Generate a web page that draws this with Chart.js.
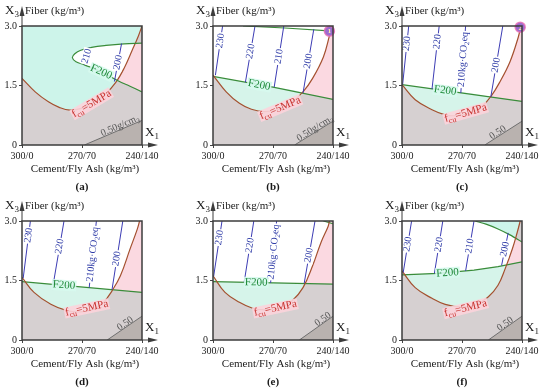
<!DOCTYPE html>
<html>
<head>
<meta charset="utf-8">
<script src="https://cdn.jsdelivr.net/npm/chart.js@4.4.0/dist/chart.umd.min.js"></script>
<style>
body { margin: 0; background: #fff; width: 550px; height: 392px; overflow: hidden; position: relative; }
canvas { position: absolute; }
</style>
</head>
<body>
<canvas id="pa" width="170" height="196" style="left:0;top:0"></canvas>
<canvas id="pb" width="170" height="196" style="left:191px;top:0"></canvas>
<canvas id="pc" width="170" height="196" style="left:380px;top:0"></canvas>
<canvas id="pd" width="170" height="196" style="left:0;top:195px"></canvas>
<canvas id="pe" width="170" height="196" style="left:191px;top:195px"></canvas>
<canvas id="pf" width="170" height="196" style="left:380px;top:195px"></canvas>
<script>
// axis ticks (x is the coded cement/fly ash level, y is fiber)
const xTicks = ['300/0', '270/70', '240/140'];
const yTicks = ['0', '1.5', '3.0'];

// (a)
const fcuA = [[0, 1.68], [0.11, 1.34], [0.22, 1.09], [0.31, 0.95], [0.40, 0.88], [0.50, 0.93], [0.60, 1.07], [0.70, 1.3], [0.78, 1.57], [0.85, 1.93], [0.92, 2.4], [0.97, 2.75], [1, 3.0]];
const f200A = [[1, 2.57], [0.85, 2.55], [0.7, 2.51], [0.58, 2.46], [0.49, 2.39], [0.44, 2.3], [0.42, 2.2], [0.45, 2.1], [0.52, 2.02], [0.62, 1.9], [0.72, 1.75], [0.8, 1.62], [0.9, 1.48], [1, 1.34]];
const densA = [[0.52, 0], [1, 0.62]];
const co2A = [[[0.52, 2.02], [0.56, 2.46]], [[0.77, 1.6], [0.83, 2.56]]];
const co2ValA = [210, 200];

// (b)
const fcuB = [[0, 1.76], [0.11, 1.34], [0.22, 1.05], [0.32, 0.9], [0.43, 0.84], [0.55, 0.9], [0.66, 1.09], [0.75, 1.34], [0.83, 1.68], [0.92, 2.22], [0.97, 2.75], [0.99, 3.0]];
const f200B = [[0, 1.73], [0.5, 1.46], [1, 1.15]];
const crossB = [0.75, 1.31];
const topB = [[0.25, 3.0], [0.6, 2.95], [1, 2.87]];
const densB = [[0.68, 0], [1, 0.6]];
const co2B = [[[0.02, 1.76], [0.08, 3.0]], [[0.27, 1.58], [0.35, 3.0]], [[0.51, 1.46], [0.59, 3.0]], [[0.75, 1.31], [0.84, 2.92]]];
const co2ValB = [230, 220, 210, 200];
const optB = [0.97, 2.87];

// (c)
const fcuC = [[0, 1.52], [0.11, 1.14], [0.25, 0.89], [0.36, 0.76], [0.45, 0.74], [0.56, 0.8], [0.67, 0.99], [0.74, 1.22], [0.81, 1.56], [0.9, 2.1], [0.97, 2.73], [0.99, 3.0]];
const f200C = [[0, 1.52], [1, 1.1]];
const crossC = [0.74, 1.21];
const densC = [[0.69, 0], [1, 0.6]];
const co2C = [[[0.005, 1.52], [0.056, 3.0]], [[0.25, 1.41], [0.31, 3.0]], [[0.49, 1.31], [0.53, 3.0]], [[0.74, 1.21], [0.84, 3.0]]];
const co2ValC = [230, 220, 210, 200];
const optC = [0.985, 2.97];

// (d)
const fcuD = [[0, 1.58], [0.1, 1.2], [0.24, 0.9], [0.375, 0.74], [0.49, 0.71], [0.6, 0.78], [0.68, 0.95], [0.75, 1.24], [0.82, 1.62], [0.9, 2.29], [0.96, 2.79], [0.98, 3.0]];
const f200D = [[0, 1.47], [1, 1.2]];
const crossD = [0.755, 1.27];
const densD = [[0.71, 0], [1, 0.6]];
const co2D = [[[0.01, 1.56], [0.07, 3.0]], [[0.26, 1.4], [0.35, 3.0]], [[0.56, 1.32], [0.62, 3.0]], [[0.75, 1.27], [0.84, 3.0]]];
const co2ValD = [230, 220, 210, 200];

// (e)
const fcuE = [[0, 1.62], [0.1, 1.2], [0.22, 0.95], [0.33, 0.8], [0.44, 0.76], [0.55, 0.8], [0.66, 0.99], [0.75, 1.32], [0.83, 1.87], [0.9, 2.46], [0.96, 2.87], [0.97, 3.0]];
const f200E = [[0, 1.47], [1, 1.41]];
const crossE = [0.765, 1.42];
const topE = [[0.92, 3.0], [1, 2.93]];
const densE = [[0.72, 0], [1, 0.6]];
const co2E = [[[0.005, 1.6], [0.075, 3.0]], [[0.26, 1.46], [0.34, 3.0]], [[0.48, 1.44], [0.53, 3.0]], [[0.76, 1.43], [0.85, 3.0]]];
const co2ValE = [230, 220, 210, 200];

// (f)
const fcuF = [[0, 1.74], [0.11, 1.32], [0.25, 1.05], [0.36, 0.9], [0.5, 0.83], [0.61, 0.88], [0.72, 1.09], [0.8, 1.38], [0.86, 1.8], [0.92, 2.3], [0.96, 2.71], [0.985, 3.0]];
const f200F = [[0, 1.64], [0.3, 1.68], [0.6, 1.76], [0.8, 1.85], [1, 1.97]];
const crossF = [0.87, 1.88];
const topF = [[0.61, 3.0], [0.7, 2.92], [0.8, 2.8], [0.9, 2.65], [1, 2.47]];
const densF = [[0.72, 0], [1, 0.6]];
const co2F = [[[0.01, 1.7], [0.08, 3.0]], [[0.27, 1.68], [0.34, 3.0]], [[0.53, 1.74], [0.6, 3.0]], [[0.83, 1.88], [0.885, 2.7]]];
const co2ValF = [230, 220, 210, 200];

const FONT = '"Liberation Serif", "DejaVu Serif", serif';

const greenShade = 'rgba(90, 220, 185, 0.3)';
const greenBand = '#d6f4ea';
const pinkShade = 'rgba(240, 110, 140, 0.26)';
const grayShade = 'rgba(120, 110, 100, 0.3)';

function richText(ctx, parts, x, y, size, align) {
    const big = size + 'px ' + FONT;
    const small = Math.round(size * 0.7) + 'px ' + FONT;
    let w = 0;
    parts.forEach(p => { ctx.font = p[1] ? small : big; w += ctx.measureText(p[0]).width; });
    let cx = align === 'center' ? x - w / 2 : align === 'right' ? x - w : x;
    ctx.textBaseline = 'middle';
    ctx.textAlign = 'left';
    parts.forEach(p => {
        ctx.font = p[1] ? small : big;
        ctx.fillText(p[0], cx, p[1] ? y + size * 0.3 : y);
        cx += ctx.measureText(p[0]).width;
    });
    return w;
}

function tag(ctx, x, y, angle, parts, size, color, bg) {
    ctx.save();
    ctx.translate(x, y);
    ctx.rotate(angle);
    if (bg) {
        let w = 0;
        parts.forEach(p => { ctx.font = (p[1] ? Math.round(size * 0.7) : size) + 'px ' + FONT; w += ctx.measureText(p[0]).width; });
        ctx.fillStyle = bg;
        ctx.fillRect(-w / 2 - 1, -size / 2, w + 2, size);
    }
    ctx.fillStyle = color;
    richText(ctx, parts, 0, 0, size, 'center');
    ctx.restore();
}

const deg = d => d * Math.PI / 180;

function decor(p) {
    return {
        id: 'decor',
        afterDatasetsDraw(chart) {
            const ctx = chart.ctx, xs = chart.scales.x, ys = chart.scales.y;
            const P = (x, y) => [xs.getPixelForValue(x), ys.getPixelForValue(y)];
            ctx.save();
            // density label
            const d0 = P(...p.dens[0]), d1 = P(...p.dens[1]);
            tag(ctx, d0[0] + (d1[0] - d0[0]) * p.densT, d0[1] + (d1[1] - d0[1]) * p.densT - 4,
                Math.atan2(d1[1] - d0[1], d1[0] - d0[0]), p.densText, 10, '#555', null);
            // CO2 contour labels
            p.co2.forEach((ln, i) => {
                const a = P(...ln[0]), b = P(...ln[1]);
                const t = p.co2T[i];
                const txt = p.co2Unit && p.co2Val[i] === 210
                    ? [['210kg·CO', 0], ['2', 1], ['eq', 0]]
                    : [[String(p.co2Val[i]), 0]];
                tag(ctx, a[0] + (b[0] - a[0]) * t, a[1] + (b[1] - a[1]) * t,
                    Math.atan2(b[1] - a[1], b[0] - a[0]), txt, 10, '#2d3aa6', '#fff');
            });
            // F200 and fcu labels
            const f = P(...p.fLab);
            tag(ctx, f[0], f[1], deg(p.fAng), [['F200', 0]], 11, '#1f8a3a', 'rgba(215,250,238,0.9)');
            const r = P(...p.rLab);
            tag(ctx, r[0], r[1], deg(p.rAng), [['f', 0], ['cu', 1], ['=5MPa', 0]], 11, '#c8322e', 'rgba(252,212,220,0.9)');
            if (p.opt) {
                const o = P(...p.opt);
                ctx.fillStyle = '#fff2a0';
                ctx.font = 'bold 7px ' + FONT;
                ctx.textAlign = 'center';
                ctx.textBaseline = 'middle';
                ctx.fillText(p.optNo, o[0], o[1] + 0.5);
            }
            ctx.restore();
        },
        afterDraw(chart) {
            const ctx = chart.ctx;
            const { left, right, top, bottom } = chart.chartArea;
            ctx.save();
            ctx.strokeStyle = '#3c3c3c';
            ctx.fillStyle = '#3c3c3c';
            ctx.lineWidth = 1.5;
            ctx.strokeRect(left, top, right - left, bottom - top);
            ctx.lineWidth = 1;
            ctx.beginPath();
            ctx.moveTo(left, top); ctx.lineTo(left, top - 12);
            ctx.moveTo(right, bottom); ctx.lineTo(right + 8, bottom);
            ctx.stroke();
            ctx.beginPath();
            ctx.moveTo(left, top - 20); ctx.lineTo(left - 2.5, top - 10); ctx.lineTo(left + 2.5, top - 10);
            ctx.closePath(); ctx.fill();
            ctx.beginPath();
            ctx.moveTo(right + 16, bottom); ctx.lineTo(right + 6, bottom - 2.5); ctx.lineTo(right + 6, bottom + 2.5);
            ctx.closePath(); ctx.fill();

            ctx.fillStyle = '#1a1a1a';
            richText(ctx, [['X', 0], ['3', 1]], left - 17, top - 15, 13, 'left');
            richText(ctx, [['Fiber (kg/m³)', 0]], left + 3, top - 15, 11, 'left');
            richText(ctx, [['X', 0], ['1', 1]], right + 3, bottom - 12, 13, 'left');
            richText(ctx, [['Cement/Fly Ash (kg/m³)', 0]], (left + right) / 2 + 3, bottom + 24, 11, 'center');
            ctx.font = 'bold 11px ' + FONT;
            ctx.textAlign = 'center';
            ctx.textBaseline = 'middle';
            ctx.fillText(p.name, (left + right) / 2, bottom + 42);
            ctx.restore();
        }
    };
}

const pts = a => a.map(([x, y]) => ({ x, y }));

// closed outline of the strip between F200 (top) and the fcu curve (bottom), left of where they meet
function bandOutline(f200, fcu, cross) {
    const upper = f200.filter(([x]) => x < cross[0]);
    const lower = fcu.filter(([x]) => x < cross[0]).reverse();
    return upper.concat([cross], lower);
}

function makePanel(id, p) {
    const ds = [];
    const base = { pointRadius: 0, tension: 0 };
    if (p.cShape) {
        // everything outside the closed F200 curve fails the flexural target
        ds.push({ ...base, data: pts([[0, 3], [1, 3]]), fill: 'origin', backgroundColor: greenShade, borderWidth: 0, order: 30 });
        ds.push({ ...base, data: pts(p.f200), tension: 0.4, fill: 'shape', backgroundColor: '#fff', borderWidth: 0, order: 29 });
        ds.push({ ...base, data: pts(p.f200), tension: 0.4, fill: false, borderColor: '#3a8c3a', borderWidth: 1.2, order: 4 });
    } else {
        ds.push({ ...base, data: pts(p.f200), fill: { value: 0 }, backgroundColor: greenShade,
            borderColor: '#3a8c3a', borderWidth: 1.2, order: 30 });
    }
    ds.push({ ...base, data: pts(p.fcu.concat([[1, 3]])), tension: 0.4, fill: { value: 0 }, backgroundColor: pinkShade, borderWidth: 0, order: 20 });
    ds.push({ ...base, data: pts(p.fcu), tension: 0.4, fill: false, borderColor: '#a4502f', borderWidth: 1.2, order: 5 });
    if (p.cross) {
        // strip above the strength curve but below F200: only the flexural limit fails there
        ds.push({ ...base, data: pts(bandOutline(p.f200, p.fcu, p.cross)), tension: 0.25, fill: 'shape',
            backgroundColor: greenBand, borderWidth: 0, order: 15 });
    }
    ds.push({ ...base, data: pts(p.dens), fill: { value: 0 }, backgroundColor: grayShade, borderColor: '#6e6e6e', borderWidth: 1, order: 10 });
    p.co2.forEach(ln => {
        ds.push({ ...base, data: pts(ln), fill: false, borderColor: '#3c3cb4', borderWidth: 1, order: 3 });
    });
    if (p.opt) {
        ds.push({ data: pts([p.opt]), showLine: false, fill: false, clip: false, pointRadius: 5, pointBackgroundColor: '#9a6ccf',
            pointBorderColor: 'rgba(235,110,180,0.8)', pointBorderWidth: 1.5, order: 1 });
    }
    if (p.top) {
        ds.push({ ...base, data: pts(p.top), tension: p.topFill ? 0.3 : 0, fill: p.topFill ? { value: 3 } : false,
            backgroundColor: greenShade, borderColor: '#3a8c3a', borderWidth: 1.2, order: 29 });
    }

    const tickFont = { family: FONT, size: 10 };
    new Chart(document.getElementById(id), {
        type: 'line',
        data: { datasets: ds },
        options: {
            responsive: false,
            animation: false,
            events: [],
            layout: { padding: { left: 0, right: 28, top: 26, bottom: 0 } },
            plugins: { legend: { display: false }, tooltip: { enabled: false }, filler: { drawTime: 'beforeDatasetsDraw' } },
            scales: {
                x: {
                    type: 'linear', min: 0, max: 1,
                    afterBuildTicks: s => { s.ticks = [0, 0.5, 1].map(v => ({ value: v })); },
                    afterFit: s => { s.height = 51; },
                    ticks: { callback: (v, i) => xTicks[i], font: tickFont, color: '#1a1a1a', maxRotation: 0, autoSkip: false, padding: 2 },
                    grid: { drawOnChartArea: false, tickLength: 3, color: '#444' },
                    border: { display: false }
                },
                y: {
                    type: 'linear', min: 0, max: 3,
                    afterBuildTicks: s => { s.ticks = [0, 1.5, 3].map(v => ({ value: v })); },
                    afterFit: s => { s.width = 22; },
                    ticks: { callback: (v, i) => yTicks[i], font: tickFont, color: '#1a1a1a', autoSkip: false, padding: 2 },
                    grid: { drawOnChartArea: false, tickLength: 3, color: '#444' },
                    border: { display: false }
                }
            }
        },
        plugins: [decor(p)]
    });
}

const unitLabel = [['0.50g/cm', 0], ['3', 1]];
const shortLabel = [['0.50', 0]];

makePanel('pa', { name: '(a)', cShape: true, fcu: fcuA, f200: f200A, dens: densA, densT: 0.62, densText: unitLabel,
    co2: co2A, co2Val: co2ValA, co2T: [0.5, 0.5], co2Unit: false,
    fLab: [0.66, 1.84], fAng: 24, rLab: [0.58, 1.04], rAng: -31 });
makePanel('pb', { name: '(b)', fcu: fcuB, f200: f200B, cross: crossB, top: topB, topFill: false, dens: densB, densT: 0.53, densText: unitLabel,
    co2: co2B, co2Val: co2ValB, co2T: [0.7, 0.55, 0.5, 0.5], co2Unit: false,
    fLab: [0.385, 1.51], fAng: 11, rLab: [0.56, 0.93], rAng: -23, opt: optB, optNo: '1' });
makePanel('pc', { name: '(c)', fcu: fcuC, f200: f200C, cross: crossC, dens: densC, densT: 0.35, densText: shortLabel,
    co2: co2C, co2Val: co2ValC, co2T: [0.7, 0.75, 0.5, 0.45], co2Unit: true,
    fLab: [0.36, 1.37], fAng: 8, rLab: [0.53, 0.8], rAng: -16, opt: optC, optNo: '2' });
makePanel('pd', { name: '(d)', fcu: fcuD, f200: f200D, cross: crossD, dens: densD, densT: 0.52, densText: shortLabel,
    co2: co2D, co2Val: co2ValD, co2T: [0.75, 0.6, 0.5, 0.45], co2Unit: true,
    fLab: [0.35, 1.38], fAng: 4, rLab: [0.54, 0.8], rAng: -12 });
makePanel('pe', { name: '(e)', fcu: fcuE, f200: f200E, cross: crossE, top: topE, topFill: false, dens: densE, densT: 0.7, densText: shortLabel,
    co2: co2E, co2Val: co2ValE, co2T: [0.7, 0.6, 0.5, 0.45], co2Unit: true,
    fLab: [0.36, 1.45], fAng: 1, rLab: [0.52, 0.8], rAng: -12 });
makePanel('pf', { name: '(f)', fcu: fcuF, f200: f200F, cross: crossF, top: topF, topFill: true, dens: densF, densT: 0.5, densText: shortLabel,
    co2: co2F, co2Val: co2ValF, co2T: [0.55, 0.55, 0.5, 0.5], co2Unit: false,
    fLab: [0.38, 1.69], fAng: -4, rLab: [0.53, 0.8], rAng: -14 });
</script>
</body>
</html>
